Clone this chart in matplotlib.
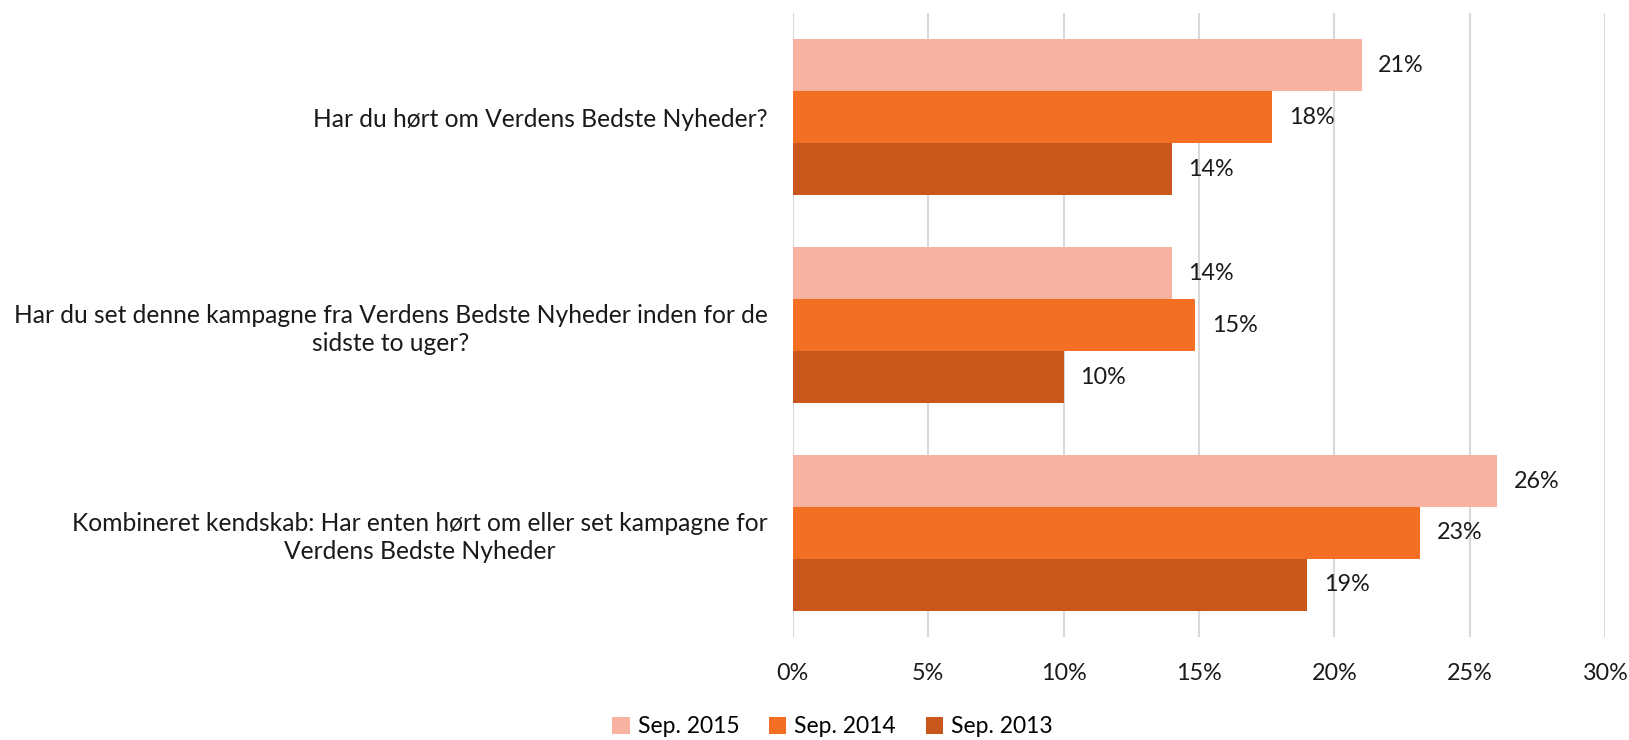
import matplotlib.pyplot as plt
import numpy as np

plt.rcParams['font.family'] = ['Lato', 'DejaVu Sans']

# Questions (top to bottom) and the three survey rounds
categories = [
    'Har du hørt om Verdens Bedste Nyheder?',
    'Har du set denne kampagne fra Verdens Bedste Nyheder inden for de\nsidste to uger?',
    'Kombineret kendskab: Har enten hørt om eller set kampagne for\nVerdens Bedste Nyheder',
]
series_names = ['Sep. 2015', 'Sep. 2014', 'Sep. 2013']
sep_2015 = [21.0, 14.0, 26.0]
sep_2014 = [17.7, 14.85, 23.15]
sep_2013 = [14.0, 10.0, 19.0]
x_ticks = [0, 5, 10, 15, 20, 25, 30]

colors = ['#F7B2A2', '#F36F24', '#C9561A']

fig = plt.figure(figsize=(16.29, 7.40), dpi=100)
ax = fig.add_axes([0.4866, 0.1392, 0.4989, 0.8432])

y = np.arange(len(categories))[::-1]
bar_h = 0.25
offsets = [bar_h, 0, -bar_h]

for vals, name, col, off in zip([sep_2015, sep_2014, sep_2013], series_names, colors, offsets):
    bars = ax.barh(y + off, vals, height=bar_h, color=col, label=name, zorder=2)
    for b, v in zip(bars, vals):
        ax.annotate(f'{round(v)}%', (b.get_width(), b.get_y() + b.get_height() / 2),
                    xytext=(12, 0), textcoords='offset points',
                    va='center', ha='left', fontsize=16.8, color='#1a1a1a')

ax.set_xlim(0, 30)
ax.set_ylim(-0.5, len(categories) - 0.5)
ax.set_xticks(x_ticks)
ax.set_xticklabels([f'{t}%' for t in x_ticks])
ax.set_yticks(y)
ax.set_yticklabels(categories, multialignment='center', linespacing=1.25)
ax.tick_params(axis='x', length=0, pad=19, labelsize=16.8, labelcolor='#1a1a1a')
ax.tick_params(axis='y', length=0, pad=18, labelsize=17.7, labelcolor='#1a1a1a')
ax.grid(axis='x', color='#D9D9D9', linewidth=1.5, zorder=0)
for s in ax.spines.values():
    s.set_visible(False)

fig.legend(loc='center', bbox_to_anchor=(0.511, 0.0176), ncol=3, frameon=False,
           fontsize=16.5, handlelength=0.75, handleheight=0.75, handletextpad=0.35,
           columnspacing=1.3)

fig.savefig('out.png', dpi=100)
